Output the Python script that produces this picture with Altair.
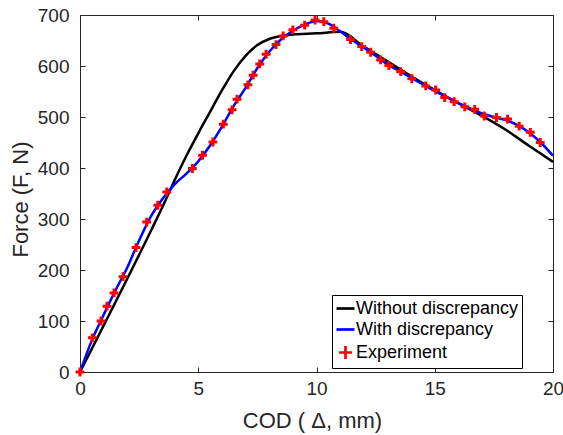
import altair as alt
import pandas as pd

# ---- data ----
series_names = ["Without discrepancy", "With discrepancy", "Experiment"]
series_colors = ["#000000", "#0000ff", "#ff0000"]

x_without = [0, 3.0, 3.5, 4.0, 4.5, 5.0, 5.5, 6.0, 6.5, 7.0, 7.5, 8.0, 8.5, 9.0, 10.0, 11.0,
             12.0, 13.0, 14.0, 15.0, 16.0, 17.0, 18.0, 19.0, 20.0]
y_without = [0, 277, 325, 376, 424, 468, 510, 552, 590, 620, 641, 653, 659, 662, 664, 667,
             638, 609, 580, 553, 527, 502, 475, 443, 412]

x_with = [0, 0.5, 1.0, 1.5, 2.0, 2.5, 3.0, 3.5, 4.0, 4.5, 5.0, 5.5, 6.0, 6.5, 7.0, 7.5, 8.0,
          8.5, 9.0, 9.5, 10.0, 10.5, 11.0, 11.5, 12.0, 12.5, 13.0, 13.5, 14.0, 14.5, 15.0,
          15.5, 16.0, 16.5, 17.0, 17.5, 18.0, 18.5, 19.0, 19.5, 20.0]
y_with = [0, 62, 112, 160, 205, 258, 305, 340, 368, 389, 413, 444, 481, 522, 557, 596, 628,
          652, 669, 681, 688, 683, 668, 651, 636, 620, 603, 590, 577, 564, 551,
          539, 527, 517, 507, 500, 494, 484, 469, 449, 424]

x_exp = [0, 0.52, 0.89, 1.14, 1.44, 1.82, 2.37, 2.82, 3.29, 3.67, 4.75, 5.18, 5.62, 6.06,
         6.43, 6.64, 7.10, 7.32, 7.60, 7.87, 8.29, 8.59, 9.00, 9.50, 9.94, 10.31, 10.73,
         11.44, 11.91, 12.29, 12.71, 13.06, 13.56, 14.03, 14.62, 15.04, 15.42, 15.82,
         16.27, 16.69, 17.09, 17.61, 18.08, 18.57, 19.04, 19.46]
y_exp = [0, 67, 100, 129, 155, 187, 244, 294, 327, 353, 399, 425, 451, 486,
         514, 535, 563, 582, 604, 623, 642, 659, 671, 680, 690, 687, 674,
         652, 638, 627, 612, 601, 589, 575, 561, 553, 538, 530,
         520, 515, 502, 499, 496, 482, 470, 450]

x_ticks = [0, 5, 10, 15, 20]
y_ticks = [0, 100, 200, 300, 400, 500, 600, 700]

# ---- tables ----
df_without = pd.DataFrame({"x": x_without, "y": y_without, "series": series_names[0]})
df_with = pd.DataFrame({"x": x_with, "y": y_with, "series": series_names[1]})
df_exp = pd.DataFrame({"x": x_exp, "y": y_exp, "series": series_names[2]})

FONT = "Liberation Sans"
AX = "#262626"
LEG_LINE = "M-1,0H1"
LEG_CROSS = "M-0.72,0H0.72M0,-0.72V0.72"

xscale = alt.Scale(domain=[0, 20], nice=False, zero=False)
yscale = alt.Scale(domain=[0, 700], nice=False, zero=False)
cscale = alt.Scale(domain=series_names, range=series_colors)
sscale = alt.Scale(domain=series_names, range=[LEG_LINE, LEG_LINE, LEG_CROSS])

legend = alt.Legend(
    title=None, orient="none", legendX=252, legendY=280, direction="vertical",
    symbolSize=324, symbolStrokeWidth=2.7, symbolFillColor="transparent",
    labelFont=FONT, labelFontSize=18, labelColor="#000000", labelOffset=0,
    labelLimit=400, padding=3, rowPadding=1,
    strokeColor="#000000", fillColor="#ffffff",
    labelExpr="datum.label + '\u00a0\u00a0\u00a0\u00a0\u00a0\u00a0'",
)

INWARD = alt.ExprRef(expr="-5")
common_axis = dict(grid=False, domainColor=AX, domainWidth=1, tickColor=AX, tickWidth=1,
                   tickSize=INWARD, labelFont=FONT, labelFontSize=19, labelColor=AX,
                   labelFlush=False,
                   titleFont=FONT, titleFontSize=22, titleColor=AX, titleFontWeight="normal")

x_bottom = alt.Axis(orient="bottom", values=x_ticks, labelPadding=12, title="COD ( Δ, mm)",
                    titleX=232, titleY=55, titleBaseline="alphabetic", titleAlign="center",
                    **common_axis)
y_left = alt.Axis(orient="left", values=y_ticks, labelPadding=16, title="Force (F, N)",
                  titleX=-53, titleY=184, titleAngle=-90, titleBaseline="alphabetic",
                  titleAlign="center", **common_axis)
x_top = alt.Axis(orient="top", values=x_ticks, labels=False, title=None, **common_axis)
y_right = alt.Axis(orient="right", values=y_ticks, labels=False, title=None, **common_axis)

black = alt.Chart(df_without).mark_line(strokeWidth=2.5, interpolate="monotone").encode(
    x=alt.X("x:Q", scale=xscale, axis=x_bottom),
    y=alt.Y("y:Q", scale=yscale, axis=y_left),
    color=alt.Color("series:N", scale=cscale, legend=legend),
)
blue = alt.Chart(df_with).mark_line(strokeWidth=2.5, interpolate="monotone").encode(
    x=alt.X("x:Q", scale=xscale, axis=None),
    y=alt.Y("y:Q", scale=yscale, axis=None),
    color=alt.Color("series:N", scale=cscale, legend=legend),
)
points = alt.Chart(df_exp).mark_point(size=150, strokeWidth=3, filled=False,
                                      opacity=1).encode(
    x=alt.X("x:Q", scale=xscale, axis=x_top),
    y=alt.Y("y:Q", scale=yscale, axis=y_right),
    color=alt.Color("series:N", scale=cscale, legend=legend),
    shape=alt.Shape("series:N", scale=sscale, legend=legend),
)

chart = alt.layer(black, blue, points).resolve_axis(
    x="independent", y="independent"
).properties(
    width=473, height=357,
    padding={"left": 80, "top": 15, "right": 10, "bottom": 63},
    autosize=alt.AutoSizeParams(type="none"),
).configure_view(stroke=None)

chart.save("out.html", embed_options={"renderer": "svg", "actions": False})
